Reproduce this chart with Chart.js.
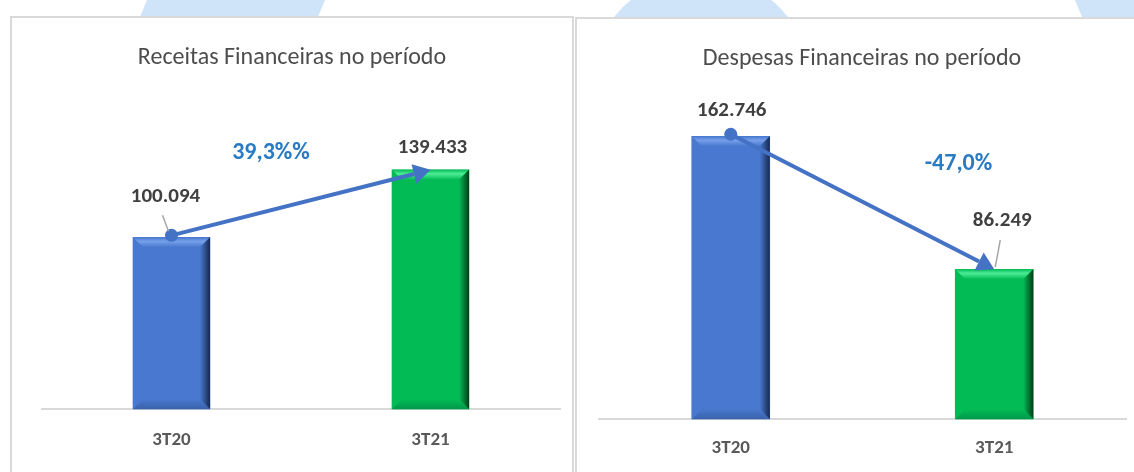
<!DOCTYPE html>
<html>
<head>
<meta charset="utf-8">
<script src="https://cdn.jsdelivr.net/npm/chart.js@4.4.0/dist/chart.umd.min.js"></script>
<style>
    html, body { margin: 0; padding: 0; background: #fff; overflow: hidden; }
    body { width: 1134px; height: 472px; position: relative; }
    .deco { position: absolute; left: 0; top: 0; width: 1134px; height: 60px; background: #cfe3f9; }
    .panel { position: absolute; background: #fff; border: 2px solid #d9d9d9; overflow: hidden; }
    #panelLeft { left: 10px; top: 16px; width: 560px; height: 470px; }
    #panelRight { left: 575px; top: 17px; width: 570px; height: 470px; }
    canvas { display: block; }
</style>
</head>
<body>
<div class="deco" style="clip-path: polygon(147px 0, 325px 0, 300px 60px, 122px 60px);"></div>
<div class="deco" style="clip-path: circle(111px at 701px 86px);"></div>
<div class="deco" style="clip-path: polygon(1075px 0, 1134px 0, 1134px 22px, 1085px 24px);"></div>

<div class="panel" id="panelLeft"><canvas id="chartReceitas" width="560" height="454"></canvas></div>
<div class="panel" id="panelRight"><canvas id="chartDespesas" width="570" height="459"></canvas></div>

<script>
// Data
const categories = ['3T20', '3T21'];
const receitas = [100094, 139433];
const despesas = [162746, 86249];
const titles = ['Receitas Financeiras no período', 'Despesas Financeiras no período'];
const variacoes = ['39,3%%', '-47,0%'];
const Y_MAX = 186000;

const FONT = "Carlito, Calibri, Lato, sans-serif";

const colors = {
    blue: '#4878cf',
    blueLight: '#76a0ea',
    blueDark: '#16284d',
    blueBottom: '#3a62aa',
    green: '#03bb55',
    greenLight: '#4ded96',
    greenDark: '#003d18',
    greenBottom: '#00984a',
    text: '#404040',
    title: '#4d4d4d',
    tick: '#595959',
    pct: '#2a7bc4',
    arrow: '#4472c4',
    leader: '#a6a6a6',
    axis: '#d9d9d9'
};

const barShades = [
    { main: colors.blue, light: colors.blueLight, dark: colors.blueDark, bottom: colors.blueBottom },
    { main: colors.green, light: colors.greenLight, dark: colors.greenDark, bottom: colors.greenBottom }
];

function fmt(v) {
    return String(v).replace(/\B(?=(\d{3})+(?!\d))/g, '.');
}

function poly(ctx, pts, fill) {
    ctx.beginPath();
    ctx.moveTo(pts[0][0], pts[0][1]);
    for (let i = 1; i < pts.length; i++) ctx.lineTo(pts[i][0], pts[i][1]);
    ctx.closePath();
    ctx.fillStyle = fill;
    ctx.fill();
}

// Bevel look of the Excel bars
const bevelPlugin = {
    id: 'bevel',
    afterDatasetsDraw(chart) {
        const ctx = chart.ctx;
        const b = 10;
        chart.getDatasetMeta(0).data.forEach((bar, i) => {
            const s = barShades[i];
            const p = bar.getProps(['x', 'y', 'width', 'base'], true);
            const x0 = p.x - p.width / 2, x1 = p.x + p.width / 2;
            const y0 = p.y, yB = p.base;
            ctx.save();
            const gTop = ctx.createLinearGradient(0, y0, 0, y0 + b);
            gTop.addColorStop(0, s.main);
            gTop.addColorStop(0.4, s.light);
            gTop.addColorStop(1, s.main);
            poly(ctx, [[x0, y0], [x1, y0], [x1 - b, y0 + b], [x0 + b, y0 + b]], gTop);
            const gRight = ctx.createLinearGradient(x1 - b, 0, x1, 0);
            gRight.addColorStop(0, s.main);
            gRight.addColorStop(1, s.dark);
            poly(ctx, [[x1, y0], [x1, yB], [x1 - b, yB - b], [x1 - b, y0 + b]], gRight);
            const gBot = ctx.createLinearGradient(0, yB - b, 0, yB);
            gBot.addColorStop(0, s.main);
            gBot.addColorStop(1, s.bottom);
            poly(ctx, [[x0, yB], [x1, yB], [x1 - b, yB - b], [x0 + b, yB - b]], gBot);
            ctx.restore();
        });
    }
};

// Value labels, variation arrow and percentage text
const notesPlugin = {
    id: 'notes',
    afterDraw(chart, args, opts) {
        const ctx = chart.ctx;
        const bars = chart.getDatasetMeta(0).data;
        const values = chart.data.datasets[0].data;
        ctx.save();

        // arrow from bar 1 to bar 2
        const sx = bars[0].x, sy = bars[0].y - 2;
        const ex = bars[1].x, ey = bars[1].y;
        const ang = Math.atan2(ey - sy, ex - sx);
        const len = 17, hw = 10;
        const bx = ex - len * Math.cos(ang), by = ey - len * Math.sin(ang);
        ctx.strokeStyle = colors.arrow;
        ctx.lineWidth = 4;
        ctx.beginPath();
        ctx.moveTo(sx, sy);
        ctx.lineTo(bx, by);
        ctx.stroke();
        poly(ctx, [
            [ex, ey],
            [bx + hw * Math.sin(ang), by - hw * Math.cos(ang)],
            [bx - hw * Math.sin(ang), by + hw * Math.cos(ang)]
        ], colors.arrow);
        ctx.beginPath();
        ctx.arc(sx, sy, 6.5, 0, Math.PI * 2);
        ctx.fillStyle = colors.arrow;
        ctx.fill();

        // value labels
        ctx.font = 'bold 21px ' + FONT;
        ctx.textAlign = 'center';
        ctx.textBaseline = 'middle';
        bars.forEach((bar, i) => {
            const [dx, dy] = opts.labelOffsets[i];
            const lx = bar.x + dx, ly = bar.y + dy;
            if (opts.leaders[i]) {
                const l = opts.leaders[i];
                ctx.strokeStyle = colors.leader;
                ctx.lineWidth = 1.5;
                ctx.beginPath();
                ctx.moveTo(bar.x + l[0], bar.y + l[1]);
                ctx.lineTo(bar.x + l[2], bar.y + l[3]);
                ctx.stroke();
            }
            ctx.fillStyle = colors.text;
            ctx.fillText(fmt(values[i]), lx, ly);
        });

        // percentage text
        ctx.font = 'bold 24px ' + FONT;
        ctx.fillStyle = colors.pct;
        ctx.fillText(opts.pctText, (sx + ex) / 2 + opts.pctOffset[0], (sy + ey) / 2 + opts.pctOffset[1]);
        ctx.restore();
    }
};

function makeChart(id, cfg) {
    return new Chart(document.getElementById(id), {
        type: 'bar',
        data: {
            labels: categories,
            datasets: [{
                data: cfg.values,
                backgroundColor: [colors.blue, colors.green],
                barThickness: cfg.barWidth
            }]
        },
        options: {
            responsive: false,
            animation: false,
            layout: { padding: cfg.padding },
            plugins: {
                legend: { display: false },
                tooltip: { enabled: false },
                title: {
                    display: true,
                    text: cfg.title,
                    color: colors.title,
                    font: { family: FONT, size: 24, weight: 'normal' },
                    padding: cfg.titlePadding
                },
                notes: cfg.notes
            },
            scales: {
                x: {
                    grid: { display: false, drawTicks: false },
                    border: { display: true, color: colors.axis, width: 2 },
                    ticks: {
                        color: colors.tick,
                        padding: cfg.tickPadding,
                        font: { family: FONT, size: 19, weight: 'bold' }
                    }
                },
                // hidden value axis; only keeps a gap on the left of the plot
                y: {
                    min: 0,
                    max: Y_MAX,
                    grid: { display: false, drawTicks: false },
                    border: { display: false },
                    ticks: { display: false },
                    afterFit: (scale) => { scale.width = cfg.yGap; }
                }
            }
        },
        plugins: [bevelPlugin, notesPlugin]
    });
}

makeChart('chartReceitas', {
    values: receitas,
    title: titles[0],
    barWidth: 77,
    tickPadding: 20,
    yGap: 18,
    padding: { left: 12, right: 12, bottom: 0 },
    titlePadding: { top: 26, bottom: 17 },
    notes: {
        labelOffsets: [[-6, -41], [2, -22]],
        leaders: [[-9, -22, -3, -6], null],
        pctText: variacoes[0],
        pctOffset: [-30, -50]
    }
});

makeChart('chartDespesas', {
    values: despesas,
    title: titles[1],
    barWidth: 78,
    tickPadding: 18,
    yGap: 1,
    padding: { left: 21, right: 21, bottom: 0 },
    titlePadding: { top: 25.5, bottom: 22.5 },
    notes: {
        labelOffsets: [[1, -25], [8, -48]],
        leaders: [null, [6, -29, 1, -2]],
        pctText: variacoes[1],
        pctOffset: [96, -38]
    }
});
</script>
</body>
</html>
